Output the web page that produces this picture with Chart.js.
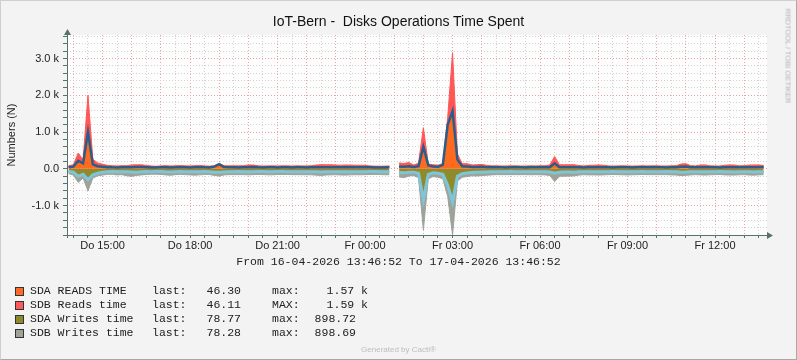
<!DOCTYPE html>
<html>
<head>
<meta charset="utf-8">
<title>IoT-Bern - Disks Operations Time Spent</title>
<script src="https://cdn.jsdelivr.net/npm/chart.js@4.4.1/dist/chart.umd.min.js"></script>
<style>
  html, body { margin: 0; padding: 0; }
  body { width: 797px; height: 360px; background: #f3f3f3; position: relative; overflow: hidden;
         font-family: "Liberation Sans", Arial, sans-serif; color: #222; }
  #frame { position: absolute; left: 0; top: 0; width: 797px; height: 360px; box-sizing: border-box;
           border: 1px solid #cfcfcf; border-right-color: #a8a8a8; border-bottom-color: #a8a8a8; pointer-events: none; }
  canvas { position: absolute; left: 0; top: 0; }
  .txt { position: absolute; white-space: pre; }
  .mono { font-family: "Liberation Mono", "DejaVu Sans Mono", monospace; font-size: 11.5px; line-height: 14px; color: #222; }
  #title { left: 0; width: 797px; top: 13px; text-align: center; font-size: 14px; line-height: 16px; color: #111; }
  #ytitle { left: 11px; top: 135px; font-size: 11px; line-height: 13px; transform: translate(-50%, -50%) rotate(-90deg); }
  #range { left: 0; width: 797px; top: 255px; text-align: center; }
  #side { left: 788px; top: 56px; font-size: 7.5px; color: #b0b0b0; transform: translate(-50%, -50%) rotate(90deg); }
  #cacti { left: 0; width: 797px; top: 345px; text-align: center; font-size: 8px; color: #bdbdbd; }
  .sw { position: absolute; width: 9px; height: 9px; box-sizing: border-box; border: 1px solid #333; }
</style>
</head>
<body>
<canvas id="c" width="797" height="360"></canvas>
<div id="title" class="txt">IoT-Bern -  Disks Operations Time Spent</div>
<div id="ytitle" class="txt">Numbers (N)</div>
<div id="range" class="txt mono">From 16-04-2026 13:46:52 To 17-04-2026 13:46:52</div>
<div id="side" class="txt">RRDTOOL / TOBI OETIKER</div>
<div id="cacti" class="txt">Generated by Cacti®</div>
<div id="legend"></div>
<div id="frame"></div>
<script>
// time window in hours since Do 00:00
const START = 13 + 46 / 60 + 52 / 3600;
const END = START + 24;
const FIRST = 13 + 50 / 60;   // first sample, 10 minute steps
const STEP = 1 / 6;

const sdaReads = [
  45, 60, 220, 150, 1000, 120, 70, 55, 45, 40, 38, 42,
  40, 45, 50, 48, 42, 38, 35, 40, 42, 38, 40, 44,
  40, 38, 42, 45, 40, 38, 60, 125, 50, 42, 40, 38,
  42, 45, 48, 40, 38, 40, 42, 38, 40, 41, 39, 40,
  40, 38, 40, 42, 45, 44, 46, 42, 44, 45, 43, 42,
  42, 44, 40, 38, 36, 38, 40, null, 60, 55, 70, 50,
  70, 600, 100, 60, 55, 110, 1200, 1570, 250, 70, 60, 50,
  50, 55, 45, 40, 42, 40, 38, 40, 42, 40, 38, 40,
  40, 42, 40, 45, 150, 45, 42, 44, 42, 40, 38, 40,
  42, 45, 42, 40, 38, 40, 42, 40, 38, 40, 42, 40,
  40, 42, 40, 38, 40, 42, 55, 60, 42, 40, 45, 44,
  42, 40, 38, 42, 45, 44, 40, 42, 45, 44, 46, 46.3
];
const sdbReads = [
  40, 50, 210, 90, 1000, 140, 90, 70, 50, 45, 40, 45,
  45, 60, 60, 62, 50, 40, 35, 40, 45, 40, 42, 46,
  42, 40, 45, 48, 40, 35, 25, 20, 35, 40, 42, 45,
  45, 60, 55, 42, 38, 40, 40, 38, 42, 40, 38, 42,
  40, 42, 45, 62, 68, 65, 66, 60, 55, 60, 58, 55,
  55, 50, 40, 35, 34, 36, 38, null, 100, 90, 100, 55,
  80, 520, 30, 50, 45, 30, 200, 1590, 150, 70, 80, 55,
  60, 65, 50, 42, 40, 38, 40, 42, 40, 38, 40, 42,
  40, 42, 45, 60, 185, 65, 68, 66, 70, 50, 40, 55,
  55, 60, 55, 40, 38, 40, 42, 40, 38, 40, 42, 40,
  42, 40, 38, 40, 42, 45, 75, 80, 45, 40, 60, 62,
  40, 38, 40, 55, 62, 60, 42, 45, 58, 62, 60, 46.11
];
const sdaWrites = [
  70, 90, 200, 150, 300, 160, 120, 90, 80, 75, 80, 78,
  80, 85, 90, 80, 75, 78, 70, 72, 80, 85, 78, 75,
  78, 80, 82, 78, 75, 80, 90, 95, 85, 80, 78, 76,
  78, 82, 80, 76, 75, 78, 80, 76, 75, 78, 80, 79,
  78, 80, 78, 82, 85, 80, 78, 80, 82, 80, 78, 80,
  80, 78, 76, 75, 78, 80, 82, null, 100, 110, 95, 90,
  120, 840, 150, 110, 120, 150, 450, 898.72, 200, 130, 110, 100,
  95, 90, 85, 80, 78, 80, 78, 76, 78, 80, 78, 80,
  78, 80, 80, 85, 120, 90, 88, 86, 90, 80, 78, 80,
  80, 82, 80, 78, 76, 78, 80, 82, 80, 78, 76, 78,
  78, 80, 78, 76, 80, 82, 90, 88, 80, 78, 80, 82,
  80, 78, 76, 80, 82, 84, 80, 78, 82, 84, 80, 78.77
];
const sdbWrites = [
  60, 80, 170, 100, 300, 90, 70, 80, 70, 75, 85, 80,
  110, 120, 90, 85, 80, 70, 75, 80, 85, 90, 80, 75,
  80, 85, 90, 85, 80, 75, 90, 100, 80, 78, 80, 82,
  80, 82, 78, 75, 80, 85, 82, 78, 80, 76, 78, 80,
  82, 80, 85, 90, 95, 88, 85, 80, 85, 90, 85, 80,
  82, 80, 78, 76, 78, 80, 78, null, 120, 130, 100, 95,
  120, 820, 120, 100, 110, 120, 300, 898.69, 130, 100, 100, 90,
  100, 95, 90, 85, 80, 78, 80, 82, 80, 78, 80, 82,
  80, 82, 85, 95, 225, 110, 115, 110, 105, 90, 82, 85,
  85, 88, 85, 80, 78, 80, 82, 85, 82, 80, 78, 80,
  80, 78, 80, 82, 85, 88, 95, 90, 85, 80, 85, 88,
  82, 80, 78, 85, 88, 86, 82, 80, 86, 88, 84, 78.28
];

const xTicks = [15, 18, 21, 24, 27, 30, 33, 36];
const xTickLabels = ['Do 15:00', 'Do 18:00', 'Do 21:00', 'Fr 00:00', 'Fr 03:00', 'Fr 06:00', 'Fr 09:00', 'Fr 12:00'];
const yTicks = [3000, 2000, 1000, 0, -1000];
const yTickLabels = ['3.0 k', '2.0 k', '1.0 k', '0.0', '-1.0 k'];

const legendNames = ['SDA READS TIME', 'SDB Reads time', 'SDA Writes time', 'SDB Writes time'];
const legendLast = ['46.30', '46.11', '78.77', '78.28'];
const legendMaxLabel = ['max:', 'MAX:', 'max:', 'max:'];
const legendMax = ['1.57 k', '1.59 k', '898.72', '898.69'];
const legendColors = ['#FF6A2A', '#FF5A5A', '#8E8A2C', '#9EA39A'];

// legend rows
const legend = document.getElementById('legend');
legendNames.forEach((name, i) => {
  const top = 284 + i * 13.9;
  const sw = document.createElement('div');
  sw.className = 'sw';
  sw.style.left = '15px'; sw.style.top = (top + 3) + 'px'; sw.style.background = legendColors[i];
  legend.appendChild(sw);
  const parts = [
    [name, 'left', 30], ['last:', 'left', 152], [legendLast[i], 'right', 241],
    [legendMaxLabel[i], 'left', 272], [legendMax[i], 'right', legendMax[i].endsWith('k') ? 368 : 356]
  ];
  parts.forEach(([t, side, x]) => {
    const s = document.createElement('div');
    s.className = 'txt mono';
    s.textContent = t;
    s.style.top = top + 'px';
    if (side === 'left') s.style.left = x + 'px';
    else s.style.right = (797 - x) + 'px';
    legend.appendChild(s);
  });
});

const times = sdaReads.map((v, i) => FIRST + i * STEP);
const pts = arr => arr.map((v, i) => ({ x: times[i], y: v }));
const neg = arr => arr.map(v => v === null ? null : -v);

const xGrid = [];
for (let i = 28; i <= 75; i++) xGrid.push(i / 2);
const yGrid = [];
for (let v = -1800; v <= 3600; v += 200) yGrid.push(v);

const AXIS = '#56736b';
const PINK = '#e9a3a3';
const GRAY = '#d2d2d2';
const FONT = { family: '"Liberation Sans", Arial, sans-serif', size: 11 };

const rrdFrame = {
  id: 'rrdFrame',
  beforeDraw(chart) {
    const { ctx, chartArea: a } = chart;
    ctx.save();
    ctx.fillStyle = '#fdfdfd';
    ctx.fillRect(a.left, a.top, a.right - a.left, a.bottom - a.top);
    ctx.restore();
  },
  afterDatasetsDraw(chart) {
    const { ctx, chartArea: a } = chart;
    const x0 = a.left, y0 = a.bottom;
    ctx.save();
    ctx.strokeStyle = AXIS;
    ctx.fillStyle = AXIS;
    ctx.lineWidth = 1;
    ctx.beginPath();
    ctx.moveTo(x0 + 0.5, y0 + 3);
    ctx.lineTo(x0 + 0.5, a.top - 4);
    ctx.moveTo(x0 - 4, y0 + 0.5);
    ctx.lineTo(a.right + 4, y0 + 0.5);
    ctx.stroke();
    ctx.beginPath();
    ctx.moveTo(x0 + 0.5, a.top - 6);
    ctx.lineTo(x0 - 3, a.top);
    ctx.lineTo(x0 + 4, a.top);
    ctx.closePath();
    ctx.fill();
    ctx.beginPath();
    ctx.moveTo(a.right + 6, y0 + 0.5);
    ctx.lineTo(a.right, y0 - 3);
    ctx.lineTo(a.right, y0 + 4);
    ctx.closePath();
    ctx.fill();
    ctx.restore();
  }
};

const area = (label, data, color, stack, fill) => ({
  label, data, stack, fill, order: 2,
  backgroundColor: color, borderColor: color, borderWidth: 1,
  pointRadius: 0, tension: 0
});
const line = (label, data, color, width) => ({
  label, data, stack: label, fill: false, order: 1,
  borderColor: color, borderWidth: width,
  pointRadius: 0, tension: 0
});

new Chart(document.getElementById('c'), {
  type: 'line',
  data: {
    datasets: [
      area('SDA READS TIME', pts(sdaReads), '#FF6A1F', 'reads', 'origin'),
      area('SDB Reads time', pts(sdbReads), '#FF5656', 'reads', '-1'),
      area('SDA Writes time', pts(neg(sdaWrites)), '#8F8B2B', 'writes', 'origin'),
      area('SDB Writes time', pts(neg(sdbWrites)), '#9EA39A', 'writes', '-1'),
      line('sda reads line', pts(sdaReads), '#2C5D8A', 2.5),
      line('sda writes line', pts(neg(sdaWrites)), '#7FC5DA', 3)
    ]
  },
  options: {
    responsive: false,
    devicePixelRatio: 1,
    animation: false,
    layout: { padding: { left: 0, right: 30, top: 35, bottom: 0 } },
    plugins: { legend: { display: false }, tooltip: { enabled: false } },
    scales: {
      x: {
        type: 'linear', min: START, max: END,
        afterBuildTicks(scale) { scale.ticks = xGrid.map(v => ({ value: v })); },
        afterFit(scale) { scale.height = 125; },
        grid: {
          color: c => (c.tick && Number.isInteger(c.tick.value)) ? PINK : GRAY,
          lineWidth: 1, tickLength: 3, tickColor: AXIS
        },
        border: { display: false, dash: [1, 2] },
        ticks: {
          autoSkip: false, maxRotation: 0, padding: 1, color: '#222', font: FONT,
          callback: v => { const k = xTicks.indexOf(v); return k >= 0 ? xTickLabels[k] : ''; }
        }
      },
      y: {
        stacked: true, min: -1800, max: 3640,
        afterBuildTicks(scale) { scale.ticks = yGrid.map(v => ({ value: v })); },
        afterFit(scale) { scale.width = 67; },
        grid: {
          color: c => (c.tick && c.tick.value % 1000 === 0) ? PINK : GRAY,
          lineWidth: 1, tickLength: 4, tickColor: AXIS
        },
        border: { display: false, dash: [1, 2] },
        ticks: {
          autoSkip: false, padding: 4, color: '#222', font: FONT,
          callback: v => { const k = yTicks.indexOf(v); return k >= 0 ? yTickLabels[k] : ''; }
        }
      }
    }
  },
  plugins: [rrdFrame]
});
</script>
</body>
</html>
